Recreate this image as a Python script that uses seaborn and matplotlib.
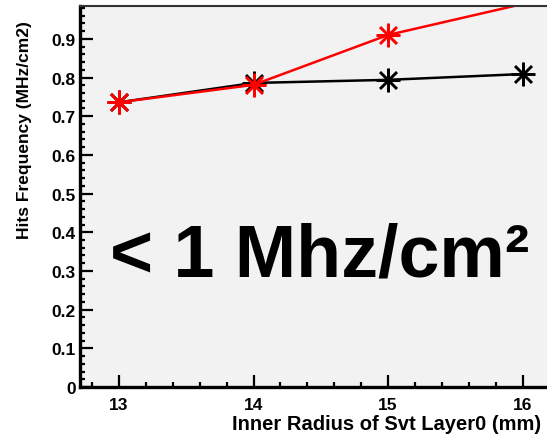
import pandas as pd
import matplotlib
matplotlib.use('Agg')
import matplotlib.pyplot as plt
import seaborn as sns
from matplotlib.ticker import MultipleLocator, FuncFormatter

# Data
radius = [13, 14, 15, 16]
hits_black = [0.736, 0.786, 0.794, 0.809]
hits_red = [0.736, 0.781, 0.910, 0.99]

y_top = 0.985

df = pd.DataFrame({
    'radius': radius * 2,
    'hits': hits_black + hits_red,
    'series': ['black'] * 4 + ['red'] * 4,
})

sns.set_style('ticks')
plt.rcParams['font.family'] = ['Liberation Sans', 'DejaVu Sans']
plt.rcParams['font.weight'] = 'bold'
plt.rcParams['text.color'] = 'black'
plt.rcParams['xtick.color'] = 'black'
plt.rcParams['ytick.color'] = 'black'
plt.rcParams['axes.edgecolor'] = 'black'

fig = plt.figure(figsize=(5.47, 4.35), dpi=100)
ax = fig.add_axes([0.1463, 0.108, 0.9, 0.876])
ax.set_facecolor('#f2f2f2')

sns.lineplot(
    data=df, x='radius', y='hits', hue='series',
    palette={'black': 'black', 'red': 'red'},
    marker=(8, 2, 0), markersize=17, markeredgewidth=1.8,
    linewidth=1.8, legend=False, ax=ax,
)
# star markers in the line colour; markers above the frame are not drawn
for line in ax.lines:
    line.set_markeredgecolor(line.get_color())
    ys = line.get_ydata()
    line.set_markevery([i for i, v in enumerate(ys) if v <= y_top])

ax.set_xlim(12.71, 16.37)
ax.set_ylim(0, y_top)

ax.xaxis.set_major_locator(MultipleLocator(1))
ax.xaxis.set_minor_locator(MultipleLocator(0.2))
ax.yaxis.set_major_locator(MultipleLocator(0.1))
ax.yaxis.set_minor_locator(MultipleLocator(0.02))
ax.yaxis.set_major_formatter(FuncFormatter(lambda v, p: '0' if abs(v) < 1e-9 else f'{v:.1f}'))
ax.xaxis.set_major_formatter(FuncFormatter(lambda v, p: f'{v:.0f}'))

ax.tick_params(which='both', direction='in', width=1.6, labelsize=12.5)
ax.tick_params(axis='x', which='major', length=9, pad=7)
ax.tick_params(axis='x', which='minor', length=3.5)
ax.tick_params(axis='y', which='major', length=9, pad=3)
ax.tick_params(axis='y', which='minor', length=3.5)

for side in ['left', 'bottom']:
    ax.spines[side].set_linewidth(2.4)
ax.spines['top'].set_linewidth(1.5)
ax.spines['top'].set_color('#333333')
ax.spines['right'].set_visible(False)

ax.set_xlabel('')
ax.set_ylabel('')
fig.text(232 / 547, 1 - 425 / 435, 'Inner Radius of Svt Layer0 (mm)',
         ha='left', va='center', fontsize=14.5, fontweight='bold')
fig.text(25 / 547, 1 - 130 / 435, 'Hits Frequency (MHz/cm2)',
         ha='center', va='center', rotation=90, fontsize=12.5, fontweight='bold')

fig.text(110 / 547, 1 - 277 / 435, '< 1 Mhz/cm²',
         ha='left', va='baseline', fontsize=53, fontweight='bold')

fig.savefig('out.png', dpi=100)
